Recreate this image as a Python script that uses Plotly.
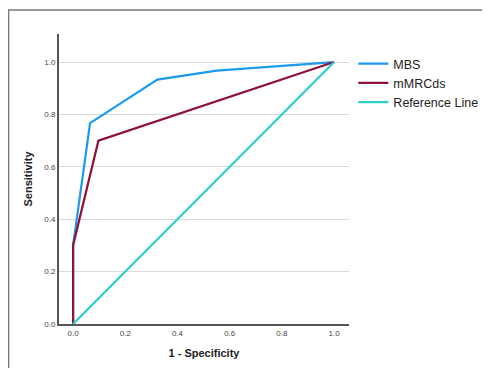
import plotly.graph_objects as go

mbs_x = [0.0, 0.0, 0.065, 0.323, 0.55, 1.0]
mbs_y = [0.0, 0.30, 0.767, 0.933, 0.967, 1.0]
mmrc_x = [0.0, 0.0, 0.097, 1.0]
mmrc_y = [0.0, 0.30, 0.70, 1.0]
ref_x = [0.0, 1.0]
ref_y = [0.0, 1.0]
tick_vals = [0.0, 0.2, 0.4, 0.6, 0.8, 1.0]
tick_text = ["0.0", "0.2", "0.4", "0.6", "0.8", "1.0"]

fig = go.Figure()
fig.add_trace(go.Scatter(x=mbs_x, y=mbs_y, mode="lines", name="MBS",
                         line=dict(color="#1A9BF0", width=2.2)))
fig.add_trace(go.Scatter(x=mmrc_x, y=mmrc_y, mode="lines", name="mMRCds",
                         line=dict(color="#8E1138", width=2.2)))
fig.add_trace(go.Scatter(x=ref_x, y=ref_y, mode="lines", name="Reference Line",
                         line=dict(color="#2ECFCB", width=2.2)))

fig.update_layout(
    width=482, height=360,
    margin=dict(l=51, r=141, t=26, b=44, autoexpand=False),
    paper_bgcolor="white", plot_bgcolor="white",
    font=dict(family="Arial, Liberation Sans, sans-serif", color="#333"),
    showlegend=True,
    legend=dict(x=1.015, y=0.948, xanchor="left", yanchor="top",
                font=dict(size=12.5, color="#222"), itemwidth=30,
                tracegroupgap=0, bgcolor="rgba(0,0,0,0)"),
    shapes=[dict(type="rect", xref="paper", yref="paper",
                 x0=-0.174, x1=1.6, y0=-0.5, y1=1.083,
                 line=dict(color="#777", width=1.5), layer="below")],
)
fig.update_xaxes(range=[-0.054, 1.057], tickvals=tick_vals, ticktext=tick_text,
                 showgrid=False, zeroline=False, showline=True,
                 linecolor="#555", linewidth=2, ticks="",
                 tickfont=dict(size=8, color="#444"),
                 title=dict(text="<b>1 - Specificity</b>", font=dict(size=11, color="#222"), standoff=13))
fig.update_yaxes(range=[0, 1.107], tickvals=tick_vals, ticktext=tick_text,
                 showgrid=True, gridcolor="#D9D9D9", gridwidth=1.2, zeroline=False,
                 showline=True, linecolor="#555", linewidth=2, ticks="",
                 tickfont=dict(size=8, color="#444"),
                 title=dict(text="<b>Sensitivity</b>", font=dict(size=11, color="#222"), standoff=9))

fig.write_html("out.html")
